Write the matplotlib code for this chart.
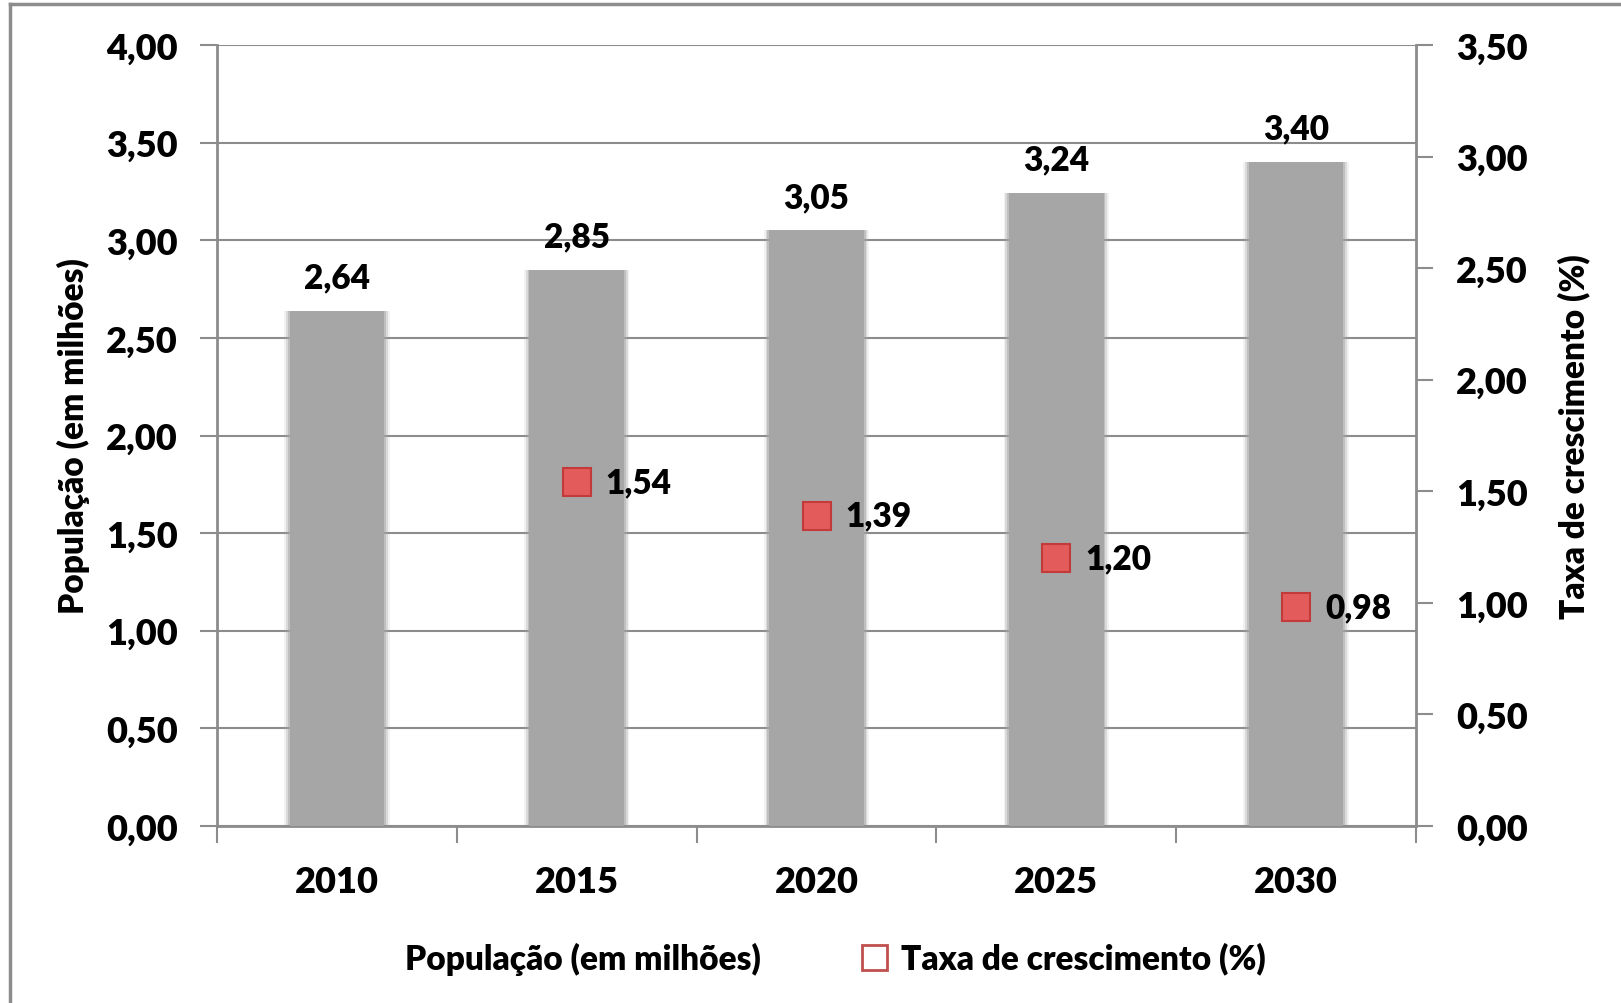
#!/usr/bin/env python3
"""Populacao (em milhoes) + taxa de crescimento (%) - bars with secondary-axis markers."""
import matplotlib
matplotlib.use("Agg")
import matplotlib.pyplot as plt
from matplotlib.lines import Line2D
import numpy as np

W = "heavy"
plt.rcParams["font.family"] = ["Lato", "DejaVu Sans"]
plt.rcParams["font.weight"] = W

years      = ["2010", "2015", "2020", "2025", "2030"]
population = [2.64, 2.85, 3.05, 3.24, 3.40]
growth     = [np.nan, 1.54, 1.39, 1.20, 0.98]

left_ticks  = [0, 0.5, 1.0, 1.5, 2.0, 2.5, 3.0, 3.5, 4.0]
right_ticks = [0, 0.5, 1.0, 1.5, 2.0, 2.5, 3.0, 3.5]

AXC = "#8c8c8c"
BAR = "#a6a6a6"

def br(v):
    return f"{v:.2f}".replace(".", ",")

fig = plt.figure(figsize=(16.21, 10.04), dpi=100)
ax1 = fig.add_axes([217 / 1621, 1 - 827 / 1004, (1416 - 217) / 1621, (827 - 46) / 1004])
ax2 = ax1.twinx()

# outer frame (only top + left visible in the original)
fig.add_artist(Line2D([10 / 1621, 1], [1 - 5 / 1004] * 2, color=AXC, lw=2.5))
fig.add_artist(Line2D([10 / 1621] * 2, [0, 1 - 5 / 1004], color=AXC, lw=2.5))

x = np.arange(len(years))
# soft-edged bars
for w, a in [(0.44, 0.15), (0.425, 0.3), (0.41, 0.5)]:
    ax1.bar(x, population, width=w, color=BAR, alpha=a, zorder=2, linewidth=0)
ax1.bar(x, population, width=0.395, color=BAR, zorder=3, linewidth=0)

for xi, v in zip(x, population):
    ax1.text(xi, v + 0.09, br(v), ha="center", va="bottom",
             fontsize=24, fontweight=W)

ax1.set_xlim(-0.5, len(years) - 0.5)
ax1.set_ylim(0, 4)
ax1.set_yticks(left_ticks)
ax1.set_yticklabels([br(t) for t in left_ticks], fontsize=26, fontweight=W)
ax1.yaxis.grid(True, color=AXC, lw=1.5, zorder=1)
ax1.set_axisbelow(True)
ax1.set_xticks(x)
ax1.set_xticklabels(years, fontsize=26, fontweight=W)
ax1.set_xticks(np.arange(len(years) + 1) - 0.5, minor=True)
ax1.tick_params(axis="x", which="major", length=0, pad=28)
ax1.tick_params(axis="x", which="minor", length=12, width=1.5, color=AXC, direction="out")
ax1.tick_params(axis="y", length=12, width=1.5, color=AXC, direction="out", pad=16)
ax1.set_ylabel("População (em milhões)", fontsize=24, fontweight=W)
ax1.yaxis.set_label_coords(-0.106, 0.5)

ax1.spines["top"].set_visible(False)
ax2.spines["top"].set_visible(False)
for sp in [ax1.spines["left"], ax1.spines["bottom"], ax2.spines["right"]]:
    sp.set_color(AXC)
    sp.set_linewidth(2)
ax1.spines["right"].set_visible(False)
ax2.spines["left"].set_visible(False)
ax2.spines["bottom"].set_visible(False)

# growth markers on secondary axis
ax2.plot(x, growth, ls="none", marker="s", markersize=20,
         markerfacecolor="#e35b5b", markeredgecolor="#c23a3a", markeredgewidth=1.5,
         zorder=5)
for xi, v in zip(x, growth):
    if np.isnan(v):
        continue
    ax2.text(xi + 0.12, v, br(v), ha="left", va="center",
             fontsize=24, fontweight=W)
ax2.set_ylim(0, 3.5)
ax2.set_yticks(right_ticks)
ax2.set_yticklabels([br(t) for t in right_ticks], fontsize=26, fontweight=W)
ax2.tick_params(axis="y", length=12, width=1.5, color=AXC, direction="out", pad=17)
ax2.set_ylabel("Taxa de crescimento (%)", fontsize=24, fontweight=W)
ax2.yaxis.set_label_coords(1.118, 0.5)

handles = [
    Line2D([], [], ls="none", marker="s", markersize=0, color="none"),
    Line2D([], [], ls="none", marker="s", markersize=18,
           markerfacecolor="white", markeredgecolor="#c0504d", markeredgewidth=2),
]
leg = fig.legend(handles, ["População (em milhões)", "Taxa de crescimento (%)"],
                 loc="center", bbox_to_anchor=(0.503, 1 - 959 / 1004), ncol=2,
                 frameon=False, fontsize=24, handlelength=0.8, columnspacing=3.0,
                 handletextpad=0.4)
for t in leg.get_texts():
    t.set_fontweight(W)

fig.savefig("out.png", dpi=100)
